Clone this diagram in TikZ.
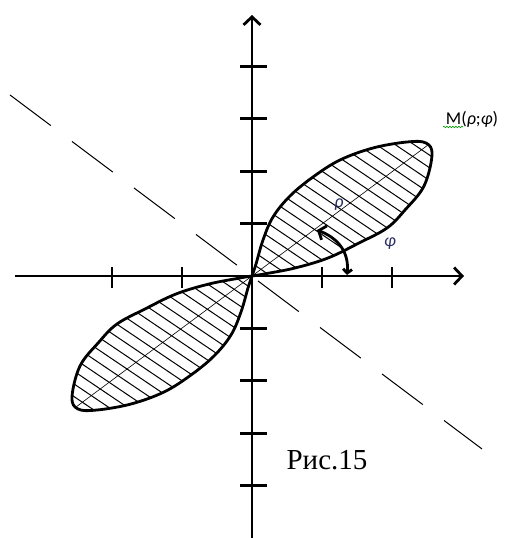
\documentclass[tikz,border=0pt]{standalone}
\usepackage{fontspec}
\setmainfont{Liberation Serif}
\newfontfamily\calib{Carlito}
\usetikzlibrary{arrows.meta,decorations.pathmorphing}
\newcommand\petalpath{plot[smooth,tension=0.6] coordinates {(0,0) (4,12) (11,36) (21,59) (38,80) (61,99) (88,116) (121,128) (155,134) (174,133) (180,121) (172,90) (153,66) (135,48) (107,33) (76,18) (43,8) (12,2) (0,0)}}
\definecolor{greek}{RGB}{40,45,100}
\begin{document}
\begin{tikzpicture}[x=1pt,y=1pt,
  axisline/.style={line width=2.8pt,-{Straight Barb[length=8pt,width=17pt]}},
  tickline/.style={line width=2.8pt},
  outline/.style={line width=2.8pt,line join=round},
  hatchline/.style={line width=1pt},
  radline/.style={line width=0.6pt},
  dashline/.style={line width=1pt,dash pattern=on 51pt off 26.5pt},
  anglearrow/.style={line width=2.8pt,{Straight Barb[length=4pt,width=9pt]}-{Straight Barb[length=6pt,width=15pt]}},
  greeklbl/.style={text=greek,font=\calib\itshape\fontsize{18}{20}\selectfont,inner sep=0pt},
  mlbl/.style={font=\calib\fontsize{18}{20}\selectfont,inner sep=0pt},
  figlbl/.style={font=\fontsize{29}{31}\selectfont,inner sep=0pt}]
\useasboundingbox (-252,-262) rectangle (266,276);
\coordinate (O) at (0,0);
\coordinate (xl) at (-237,0);
\coordinate (xr) at (212,0);
\coordinate (yb) at (0,-262);
\coordinate (yt) at (0,261);
\coordinate (dl) at (-242,181);
\coordinate (dr) at (230,-173);
% dashed line
\draw[dashline] (dl) -- (dr);
% petals
\foreach \r in {0,180}{
\begin{scope}[rotate=\r]
  \begin{scope}
    \clip \petalpath -- cycle;
    \begin{scope}[rotate=-34]
      \foreach \i in {-25,...,25} \draw[hatchline] (-300,\i*10.5) -- (300,\i*10.5);
    \end{scope}
  \end{scope}
  \draw[radline] (0,0) -- (176,131);
  \draw[outline] \petalpath;
\end{scope}
}
% axes
\draw[axisline] (xl) -- (xr);
\draw[axisline] (yb) -- (yt);
% ticks
\foreach \k in {-140,-70,70,140} \draw[tickline] (\k,9) -- (\k,-12);
\foreach \k in {-4,-3,-2,-1,1,2,3,4} \draw[tickline] (-12,\k*52.4) -- (15,\k*52.4);
% angle arrow
\coordinate (a1) at (95,1);
\coordinate (a2) at (65,46);
\draw[anglearrow] (a1) .. controls (97,22) and (88,37) .. (a2);
% labels
\node[mlbl] (M) at (220,157) {M(\textit{ρ};\textit{φ})};
\draw[green!60!black,line width=0.6pt,decorate,decoration={snake,amplitude=0.8pt,segment length=3pt}] (191,149) -- (211,149);
\node[greeklbl] (rho) at (87,71) {ρ};
\node[greeklbl] (phi) at (138,32) {φ};
\node[figlbl] (fig) at (75,-184) {Рис.15};
\end{tikzpicture}
\end{document}
